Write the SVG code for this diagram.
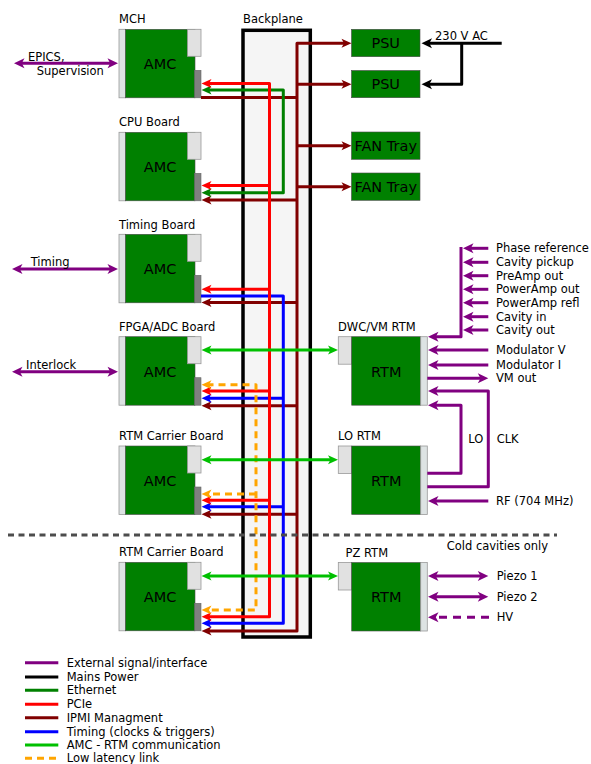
<svg xmlns="http://www.w3.org/2000/svg" width="591" height="764" viewBox="0 0 591 764">
<style>
text{font-family:"DejaVu Sans","Liberation Sans",sans-serif;fill:#000}
.lbl{font-size:11.5px}
.big{font-size:14.5px;text-anchor:middle}
.strip{fill:#dde3e3;stroke:#999;stroke-width:0.8}
.body{fill:#008000;stroke:#4a4a4a;stroke-width:0.6}
.lt{fill:#e1e1e1;stroke:#999;stroke-width:0.8}
.dk{fill:#808080;stroke:#666;stroke-width:0.6}
.c{fill:none;stroke-width:3;stroke-linejoin:round}
.pu{stroke:#800080}.bk{stroke:#000}.eg{stroke:#008000}.rd{stroke:#ff0000}
.mr{stroke:#800000}.bl{stroke:#0000ff}.ag{stroke:#00c000}.or{stroke:#ffa500;stroke-dasharray:7,5}
</style>
<defs>
<marker id="aPu" viewBox="-6 -6 12 12" markerWidth="12" markerHeight="12" markerUnits="userSpaceOnUse" orient="auto-start-reverse"><path d="M5,0 L-5.5,-5 L-2.8,0 L-5.5,5 Z" fill="#800080"/></marker>
<marker id="aBk" viewBox="-6 -6 12 12" markerWidth="12" markerHeight="12" markerUnits="userSpaceOnUse" orient="auto-start-reverse"><path d="M5,0 L-5.5,-5 L-2.8,0 L-5.5,5 Z" fill="#000"/></marker>
<marker id="aEg" viewBox="-6 -6 12 12" markerWidth="12" markerHeight="12" markerUnits="userSpaceOnUse" orient="auto-start-reverse"><path d="M5,0 L-5,-4.5 L-2.5,0 L-5,4.5 Z" fill="#008000"/></marker>
<marker id="aRd" viewBox="-6 -6 12 12" markerWidth="12" markerHeight="12" markerUnits="userSpaceOnUse" orient="auto-start-reverse"><path d="M5,0 L-5,-4.5 L-2.5,0 L-5,4.5 Z" fill="#ff0000"/></marker>
<marker id="aMr" viewBox="-6 -6 12 12" markerWidth="12" markerHeight="12" markerUnits="userSpaceOnUse" orient="auto-start-reverse"><path d="M5,0 L-5,-4.5 L-2.5,0 L-5,4.5 Z" fill="#800000"/></marker>
<marker id="aBl" viewBox="-6 -6 12 12" markerWidth="12" markerHeight="12" markerUnits="userSpaceOnUse" orient="auto-start-reverse"><path d="M5,0 L-5,-4.5 L-2.5,0 L-5,4.5 Z" fill="#0000ff"/></marker>
<marker id="aAg" viewBox="-6 -6 12 12" markerWidth="12" markerHeight="12" markerUnits="userSpaceOnUse" orient="auto-start-reverse"><path d="M5,0 L-5,-4.5 L-2.5,0 L-5,4.5 Z" fill="#00c000"/></marker>
<marker id="aOr" viewBox="-6 -6 12 12" markerWidth="12" markerHeight="12" markerUnits="userSpaceOnUse" orient="auto-start-reverse"><path d="M5,0 L-5,-4.5 L-2.5,0 L-5,4.5 Z" fill="#ffa500"/></marker>
</defs>
<rect width="591" height="764" fill="#fff"/>

<g id="backplane">
<rect x="243" y="30.3" width="67.3" height="606.7" fill="#f5f5f5" stroke="#000" stroke-width="3.5"/>
<text class="lbl" x="243" y="23">Backplane</text>
</g>

<g id="mch">
<rect class="strip" x="119" y="29.3" width="6.5" height="68.5"/><rect class="body" x="125.5" y="29.3" width="69.5" height="68.5"/>
<rect class="lt" x="187.5" y="29.3" width="13.5" height="27"/><rect class="dk" x="194.5" y="70.3" width="6.5" height="27.5"/>
<text class="big" x="160" y="69">AMC</text><text class="lbl" x="119" y="23">MCH</text>
</g>
<g id="cpu">
<rect class="strip" x="119" y="132.3" width="6.5" height="68.5"/><rect class="body" x="125.5" y="132.3" width="69.5" height="68.5"/>
<rect class="lt" x="187.5" y="132.3" width="13.5" height="27"/><rect class="dk" x="194.5" y="173.3" width="6.5" height="27.5"/>
<text class="big" x="160" y="172">AMC</text><text class="lbl" x="119" y="126">CPU Board</text>
</g>
<g id="timing">
<rect class="strip" x="119" y="234.3" width="6.5" height="68.5"/><rect class="body" x="125.5" y="234.3" width="69.5" height="68.5"/>
<rect class="lt" x="187.5" y="234.3" width="13.5" height="27"/><rect class="dk" x="194.5" y="275.3" width="6.5" height="27.5"/>
<text class="big" x="160" y="274">AMC</text><text class="lbl" x="119" y="228.5">Timing Board</text>
</g>
<g id="fpga">
<rect class="strip" x="119" y="336.7" width="6.5" height="68.5"/><rect class="body" x="125.5" y="336.7" width="69.5" height="68.5"/>
<rect class="lt" x="187.5" y="336.7" width="13.5" height="27"/><rect class="dk" x="194.5" y="377.7" width="6.5" height="27.5"/>
<text class="big" x="160" y="376.5">AMC</text><text class="lbl" x="119" y="331">FPGA/ADC Board</text>
</g>
<g id="carrier1">
<rect class="strip" x="119" y="446" width="6.5" height="68.5"/><rect class="body" x="125.5" y="446" width="69.5" height="68.5"/>
<rect class="lt" x="187.5" y="446" width="13.5" height="27"/><rect class="dk" x="194.5" y="487" width="6.5" height="27.5"/>
<text class="big" x="160" y="486">AMC</text><text class="lbl" x="119" y="440">RTM Carrier Board</text>
</g>
<g id="carrier2">
<rect class="strip" x="119" y="562.3" width="6.5" height="68.5"/><rect class="body" x="125.5" y="562.3" width="69.5" height="68.5"/>
<rect class="lt" x="187.5" y="562.3" width="13.5" height="27"/><rect class="dk" x="194.5" y="603.3" width="6.5" height="27.5"/>
<text class="big" x="160" y="602">AMC</text><text class="lbl" x="119" y="556">RTM Carrier Board</text>
</g>

<g id="psu1"><rect class="body" x="351.5" y="29.3" width="68.5" height="27.4"/><text class="big" x="385.7" y="48">PSU</text></g>
<g id="psu2"><rect class="body" x="351.5" y="70.5" width="68.5" height="27.2"/><text class="big" x="385.7" y="89">PSU</text></g>
<g id="fan1"><rect class="body" x="351.5" y="132" width="68.5" height="27.3"/><text class="big" x="385.7" y="150.7">FAN Tray</text></g>
<g id="fan2"><rect class="body" x="351.5" y="173" width="68.5" height="27.3"/><text class="big" x="385.7" y="191.7">FAN Tray</text></g>

<g id="dwc">
<rect class="lt" x="338.3" y="336.7" width="13.4" height="27.5"/><rect class="body" x="351.7" y="336.7" width="69" height="68.5"/>
<rect class="strip" x="420.7" y="336.7" width="6.6" height="68.5"/>
<text class="big" x="386.2" y="376.5">RTM</text><text class="lbl" x="338" y="331">DWC/VM RTM</text>
</g>
<g id="lo">
<rect class="lt" x="338.3" y="446" width="13.4" height="27.5"/><rect class="body" x="351.7" y="446" width="69" height="68.5"/>
<rect class="strip" x="420.7" y="446" width="6.6" height="68.5"/>
<text class="big" x="386.2" y="486">RTM</text><text class="lbl" x="338" y="440">LO RTM</text>
</g>
<g id="pz">
<rect class="lt" x="338.3" y="562.5" width="13.4" height="27.5"/><rect class="body" x="351.7" y="562.5" width="69" height="68.5"/>
<rect class="strip" x="420.7" y="562.5" width="6.6" height="68.5"/>
<text class="big" x="386.2" y="602">RTM</text><text class="lbl" x="345.5" y="556.5">PZ RTM</text>
</g>

<g id="connectors">
<path class="c mr" d="M206.5,631 H297 V43.3 H346.5" marker-start="url(#aMr)" marker-end="url(#aMr)"/>
<path class="c mr" d="M297,84.3 H346.5" marker-end="url(#aMr)"/>
<path class="c mr" d="M297,145.7 H346.5" marker-end="url(#aMr)"/>
<path class="c mr" d="M297,186.7 H346.5" marker-end="url(#aMr)"/>
<path class="c mr" d="M201,97.5 H297"/>
<path class="c mr" d="M297,200 H206.5" marker-end="url(#aMr)"/>
<path class="c mr" d="M297,302.5 H206.5" marker-end="url(#aMr)"/>
<path class="c mr" d="M297,405.7 H206.5" marker-end="url(#aMr)"/>
<path class="c mr" d="M297,514.2 H206.5" marker-end="url(#aMr)"/>

<path class="c bl" d="M201,296 H283.3 V623.3 H206.5" marker-end="url(#aBl)"/>
<path class="c bl" d="M283.3,398.3 H206.5" marker-end="url(#aBl)"/>
<path class="c bl" d="M283.3,506.7 H206.5" marker-end="url(#aBl)"/>

<path class="c eg" d="M206.5,90 H283.3 V192.7 H206.5" marker-start="url(#aEg)" marker-end="url(#aEg)"/>

<path class="c rd" d="M206.5,83.5 H269.5 V616.7 H206.5" marker-start="url(#aRd)" marker-end="url(#aRd)"/>
<path class="c rd" d="M269.5,185.5 H206.5" marker-end="url(#aRd)"/>
<path class="c rd" d="M269.5,289.3 H206.5" marker-end="url(#aRd)"/>
<path class="c rd" d="M269.5,391 H206.5" marker-end="url(#aRd)"/>
<path class="c rd" d="M269.5,500.3 H206.5" marker-end="url(#aRd)"/>

<path class="c or" d="M206.5,384.7 H256 V610 H206.5" marker-start="url(#aOr)" marker-end="url(#aOr)"/>
<path class="c or" d="M256,494 H206.5" marker-end="url(#aOr)"/>

<path class="c ag" d="M206.5,350 H333" marker-start="url(#aAg)" marker-end="url(#aAg)"/>
<path class="c ag" d="M206.5,459.7 H333" marker-start="url(#aAg)" marker-end="url(#aAg)"/>
<path class="c ag" d="M206.5,576 H333" marker-start="url(#aAg)" marker-end="url(#aAg)"/>

<path class="c bk" d="M501.7,43.3 H426.5" marker-end="url(#aBk)"/>
<path class="c bk" d="M461.7,43.3 V84.3 H426.5" marker-end="url(#aBk)"/>

<path class="c pu" d="M19,63.3 H113" marker-start="url(#aPu)" marker-end="url(#aPu)"/>
<path class="c pu" d="M17,269 H113" marker-start="url(#aPu)" marker-end="url(#aPu)"/>
<path class="c pu" d="M17,371.7 H113" marker-start="url(#aPu)" marker-end="url(#aPu)"/>

<path class="c pu" d="M461,247 V336.7 H433" marker-end="url(#aPu)"/>
<path class="c pu" d="M488.3,248.3 H468" marker-end="url(#aPu)"/>
<path class="c pu" d="M488.3,262.3 H468" marker-end="url(#aPu)"/>
<path class="c pu" d="M488.3,275.7 H468" marker-end="url(#aPu)"/>
<path class="c pu" d="M488.3,289.3 H468" marker-end="url(#aPu)"/>
<path class="c pu" d="M488.3,302.7 H468" marker-end="url(#aPu)"/>
<path class="c pu" d="M488.3,316.7 H468" marker-end="url(#aPu)"/>
<path class="c pu" d="M488.3,330 H468" marker-end="url(#aPu)"/>
<path class="c pu" d="M488.3,350 H433" marker-end="url(#aPu)"/>
<path class="c pu" d="M488.3,365 H433" marker-end="url(#aPu)"/>
<path class="c pu" d="M427.3,378.3 H483.3" marker-end="url(#aPu)"/>
<path class="c pu" d="M427.3,486.7 H488.3 V391 H433" marker-end="url(#aPu)"/>
<path class="c pu" d="M427.3,473.3 H461 V405.3 H433" marker-end="url(#aPu)"/>
<path class="c pu" d="M488.3,501 H433" marker-end="url(#aPu)"/>
<path class="c pu" d="M433,576 H483.3" marker-start="url(#aPu)" marker-end="url(#aPu)"/>
<path class="c pu" d="M433,596.7 H483.3" marker-start="url(#aPu)" marker-end="url(#aPu)"/>
<path class="c pu" d="M489,617.3 H433" stroke-dasharray="8,6" marker-end="url(#aPu)"/>
</g>

<g id="labels">
<text class="lbl" x="435" y="40">230 V AC</text>
<text class="lbl" x="28" y="61">EPICS,</text>
<text class="lbl" x="36.7" y="75">Supervision</text>
<text class="lbl" x="30.7" y="266">Timing</text>
<text class="lbl" x="26" y="369">Interlock</text>
<text class="lbl" x="496" y="252.3">Phase reference</text>
<text class="lbl" x="496" y="266.3">Cavity pickup</text>
<text class="lbl" x="496" y="279.7">PreAmp out</text>
<text class="lbl" x="496" y="293.3">PowerAmp out</text>
<text class="lbl" x="496" y="306.7">PowerAmp refl</text>
<text class="lbl" x="496" y="320.7">Cavity in</text>
<text class="lbl" x="496" y="334">Cavity out</text>
<text class="lbl" x="496" y="354">Modulator V</text>
<text class="lbl" x="496" y="369">Modulator I</text>
<text class="lbl" x="496" y="382.3">VM out</text>
<text class="lbl" x="468.3" y="443.3">LO</text>
<text class="lbl" x="496.7" y="443.3">CLK</text>
<text class="lbl" x="496" y="505.3">RF (704 MHz)</text>
<text class="lbl" x="446.7" y="550">Cold cavities only</text>
<text class="lbl" x="496.7" y="580">Piezo 1</text>
<text class="lbl" x="496.7" y="600.7">Piezo 2</text>
<text class="lbl" x="496.7" y="621.3">HV</text>
</g>

<path d="M8,535 H557" fill="none" stroke="#4d4d4d" stroke-width="3" stroke-dasharray="6,4.5"/>

<g id="legend">
<path class="c pu" d="M25,662.7 H58.3"/><text class="lbl" x="66.7" y="666.7">External signal/interface</text>
<path class="c bk" d="M25,677 H58.3"/><text class="lbl" x="66.7" y="681">Mains Power</text>
<path class="c eg" d="M25,690.3 H58.3"/><text class="lbl" x="66.7" y="694.3">Ethernet</text>
<path class="c rd" d="M25,704.3 H58.3"/><text class="lbl" x="66.7" y="708.3">PCIe</text>
<path class="c mr" d="M25,717.7 H58.3"/><text class="lbl" x="66.7" y="721.7">IPMI Managment</text>
<path class="c bl" d="M25,731.7 H58.3"/><text class="lbl" x="66.7" y="735.7">Timing (clocks &amp; triggers)</text>
<path class="c ag" d="M25,745 H58.3"/><text class="lbl" x="66.7" y="749">AMC - RTM communication</text>
<path class="c or" d="M25,758.3 H58.3" stroke-dasharray="6.7,6.7"/><text class="lbl" x="66.7" y="762.3">Low latency link</text>
</g>
</svg>
